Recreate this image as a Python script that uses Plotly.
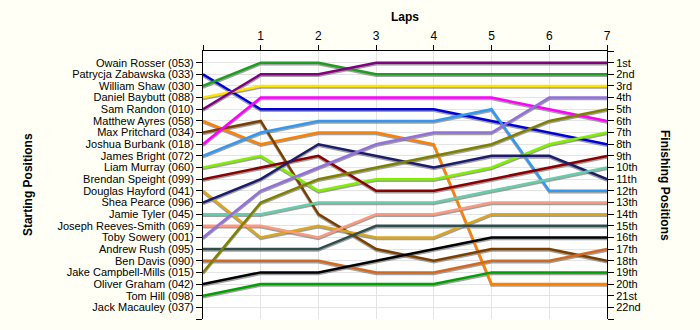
import plotly.graph_objects as go

# Lap numbers (0 = grid / starting position)
laps = [0, 1, 2, 3, 4, 5, 6, 7]
lap_tick_text = ["", "1", "2", "3", "4", "5", "6", "7"]

# Starting grid, top to bottom
starting_grid = [
    "Owain Rosser (053)", "Patrycja Zabawska (033)", "William Shaw (030)",
    "Daniel Baybutt (088)", "Sam Randon (010)", "Matthew Ayres (058)",
    "Max Pritchard (034)", "Joshua Burbank (018)", "James Bright (072)",
    "Liam Murray (060)", "Brendan Speight (099)", "Douglas Hayford (041)",
    "Shea Pearce (096)", "Jamie Tyler (045)", "Joseph Reeves-Smith (069)",
    "Toby Sowery (001)", "Andrew Rush (095)", "Ben Davis (090)",
    "Jake Campbell-Mills (015)", "Oliver Graham (042)", "Tom Hill (098)",
    "Jack Macauley (037)",
]

finishing_labels = [
    "1st", "2nd", "3rd", "4th", "5th", "6th", "7th", "8th", "9th", "10th",
    "11th", "12th", "13th", "14th", "15th", "16th", "17th", "18th", "19th",
    "20th", "21st", "22nd",
]

# Running position at the end of each lap (lap 0 = grid slot)
patrycja_zabawska = [2, 5, 5, 5, 5, 6, 7, 8]
william_shaw = [3, 1, 1, 2, 2, 2, 2, 2]
daniel_baybutt = [4, 3, 3, 3, 3, 3, 3, 3]
sam_randon = [5, 2, 2, 1, 1, 1, 1, 1]
matthew_ayres = [6, 8, 7, 7, 8, 20, 20, 20]
max_pritchard = [7, 6, 14, 17, 18, 17, 17, 18]
joshua_burbank = [8, 4, 4, 4, 4, 4, 5, 6]
james_bright = [9, 7, 6, 6, 6, 5, 12, 12]
liam_murray = [10, 9, 12, 11, 11, 10, 8, 7]
brendan_speight = [11, 10, 9, 12, 12, 11, 10, 9]
douglas_hayford = [12, 16, 15, 16, 16, 14, 14, 14]
shea_pearce = [13, 11, 8, 9, 10, 9, 9, 11]
jamie_tyler = [14, 14, 13, 13, 13, 12, 11, 10]
joseph_reeves_smith = [15, 15, 16, 14, 14, 13, 13, 13]
toby_sowery = [16, 12, 10, 8, 7, 7, 4, 4]
andrew_rush = [17, 17, 17, 15, 15, 15, 15, 15]
ben_davis = [18, 18, 18, 19, 19, 18, 18, 17]
jake_campbell_mills = [19, 13, 11, 10, 9, 8, 6, 5]
oliver_graham = [20, 19, 19, 18, 17, 16, 16, 16]
tom_hill = [21, 20, 20, 20, 20, 19, 19, 19]

runners = [
    ("Patrycja Zabawska (033)", patrycja_zabawska, "#0000DD"),
    ("William Shaw (030)", william_shaw, "#1E9E1E"),
    ("Daniel Baybutt (088)", daniel_baybutt, "#FFE400"),
    ("Sam Randon (010)", sam_randon, "#800080"),
    ("Matthew Ayres (058)", matthew_ayres, "#FF8000"),
    ("Max Pritchard (034)", max_pritchard, "#7B3F00"),
    ("Joshua Burbank (018)", joshua_burbank, "#FF00FF"),
    ("James Bright (072)", james_bright, "#3399F0"),
    ("Liam Murray (060)", liam_murray, "#80F000"),
    ("Brendan Speight (099)", brendan_speight, "#8B0000"),
    ("Douglas Hayford (041)", douglas_hayford, "#DAA520"),
    ("Shea Pearce (096)", shea_pearce, "#1C1C6C"),
    ("Jamie Tyler (045)", jamie_tyler, "#66CDAA"),
    ("Joseph Reeves-Smith (069)", joseph_reeves_smith, "#FA9A80"),
    ("Toby Sowery (001)", toby_sowery, "#9370DB"),
    ("Andrew Rush (095)", andrew_rush, "#2F4F4F"),
    ("Ben Davis (090)", ben_davis, "#D2691E"),
    ("Jake Campbell-Mills (015)", jake_campbell_mills, "#808000"),
    ("Oliver Graham (042)", oliver_graham, "#000000"),
    ("Tom Hill (098)", tom_hill, "#00A000"),
]

n_slots = len(starting_grid)
slot_ticks = list(range(1, n_slots + 1))
y_range = [n_slots + 1, 0]
shadow_shift = 0.13  # drop shadow offset, in position units

font_family = "Liberation Sans, Arial, sans-serif"

fig = go.Figure()

# Drop shadows on the base (hidden) axis so they sit under the coloured lines
for name, pos, color in runners:
    fig.add_trace(go.Scatter(
        x=laps, y=pos, mode="lines", xaxis="x", yaxis="y",
        line=dict(color="rgba(120,120,120,0.7)", width=2.5),
        hoverinfo="skip", showlegend=False,
    ))

# Coloured position lines
for name, pos, color in runners:
    fig.add_trace(go.Scatter(
        x=laps, y=pos, mode="lines", name=name, xaxis="x", yaxis="y2",
        line=dict(color=color, width=2.5),
        showlegend=False,
    ))

# Dummy trace to activate the right-hand axis
fig.add_trace(go.Scatter(
    x=[None], y=[None], xaxis="x", yaxis="y3", showlegend=False, hoverinfo="skip",
))

tick_font = dict(family=font_family, size=11, color="#000000")

fig.update_layout(
    width=700, height=330,
    margin=dict(l=203, r=93, t=51, b=11),
    paper_bgcolor="#FFFFF5",
    plot_bgcolor="#FFFFFF",
    font=dict(family=font_family, size=11, color="#000000"),
    xaxis=dict(
        side="top", range=[0, 7], tickmode="array",
        tickvals=laps, ticktext=lap_tick_text,
        ticks="outside", ticklen=5, tickcolor="#000000",
        showline=True, linecolor="#000000", linewidth=1,
        showgrid=True, gridcolor="#E4E4E4", gridwidth=1,
        zeroline=False, tickfont=dict(family=font_family, size=12, color="#000000"),
        fixedrange=True,
    ),
    yaxis=dict(
        range=[y_range[0] - shadow_shift, y_range[1] - shadow_shift],
        visible=False, showgrid=False, zeroline=False, fixedrange=True,
    ),
    yaxis2=dict(
        overlaying="y", side="left", range=y_range,
        tickmode="array", tickvals=slot_ticks + [n_slots + 1],
        ticktext=starting_grid + [""],
        ticks="outside", ticklen=6, tickcolor="#000000",
        showline=True, linecolor="#000000", linewidth=1,
        showgrid=True, gridcolor="#E4E4E4", gridwidth=1,
        zeroline=False, tickfont=tick_font, fixedrange=True,
    ),
    yaxis3=dict(
        overlaying="y", side="right", range=y_range,
        tickmode="array", tickvals=[0] + slot_ticks + [n_slots + 1],
        ticktext=[""] + finishing_labels + [""],
        ticks="outside", ticklen=6, tickcolor="#000000",
        showline=True, linecolor="#000000", linewidth=1,
        showgrid=False, zeroline=False, tickfont=tick_font,
        fixedrange=True,
    ),
    annotations=[
        dict(text="<b>Laps</b>", xref="paper", yref="paper", x=0.5, y=1.127,
             xanchor="center", yanchor="middle", showarrow=False,
             font=dict(family=font_family, size=12, color="#000000")),
        dict(text="<b>Starting Positions</b>", xref="paper", yref="paper",
             x=-0.433, y=0.5, xanchor="center", yanchor="middle",
             textangle=-90, showarrow=False,
             font=dict(family=font_family, size=12, color="#000000")),
        dict(text="<b>Finishing Positions</b>", xref="paper", yref="paper",
             x=1.1436, y=0.5, xanchor="center", yanchor="middle",
             textangle=90, showarrow=False,
             font=dict(family=font_family, size=12, color="#000000")),
    ],
)

fig.write_html("out.html")
